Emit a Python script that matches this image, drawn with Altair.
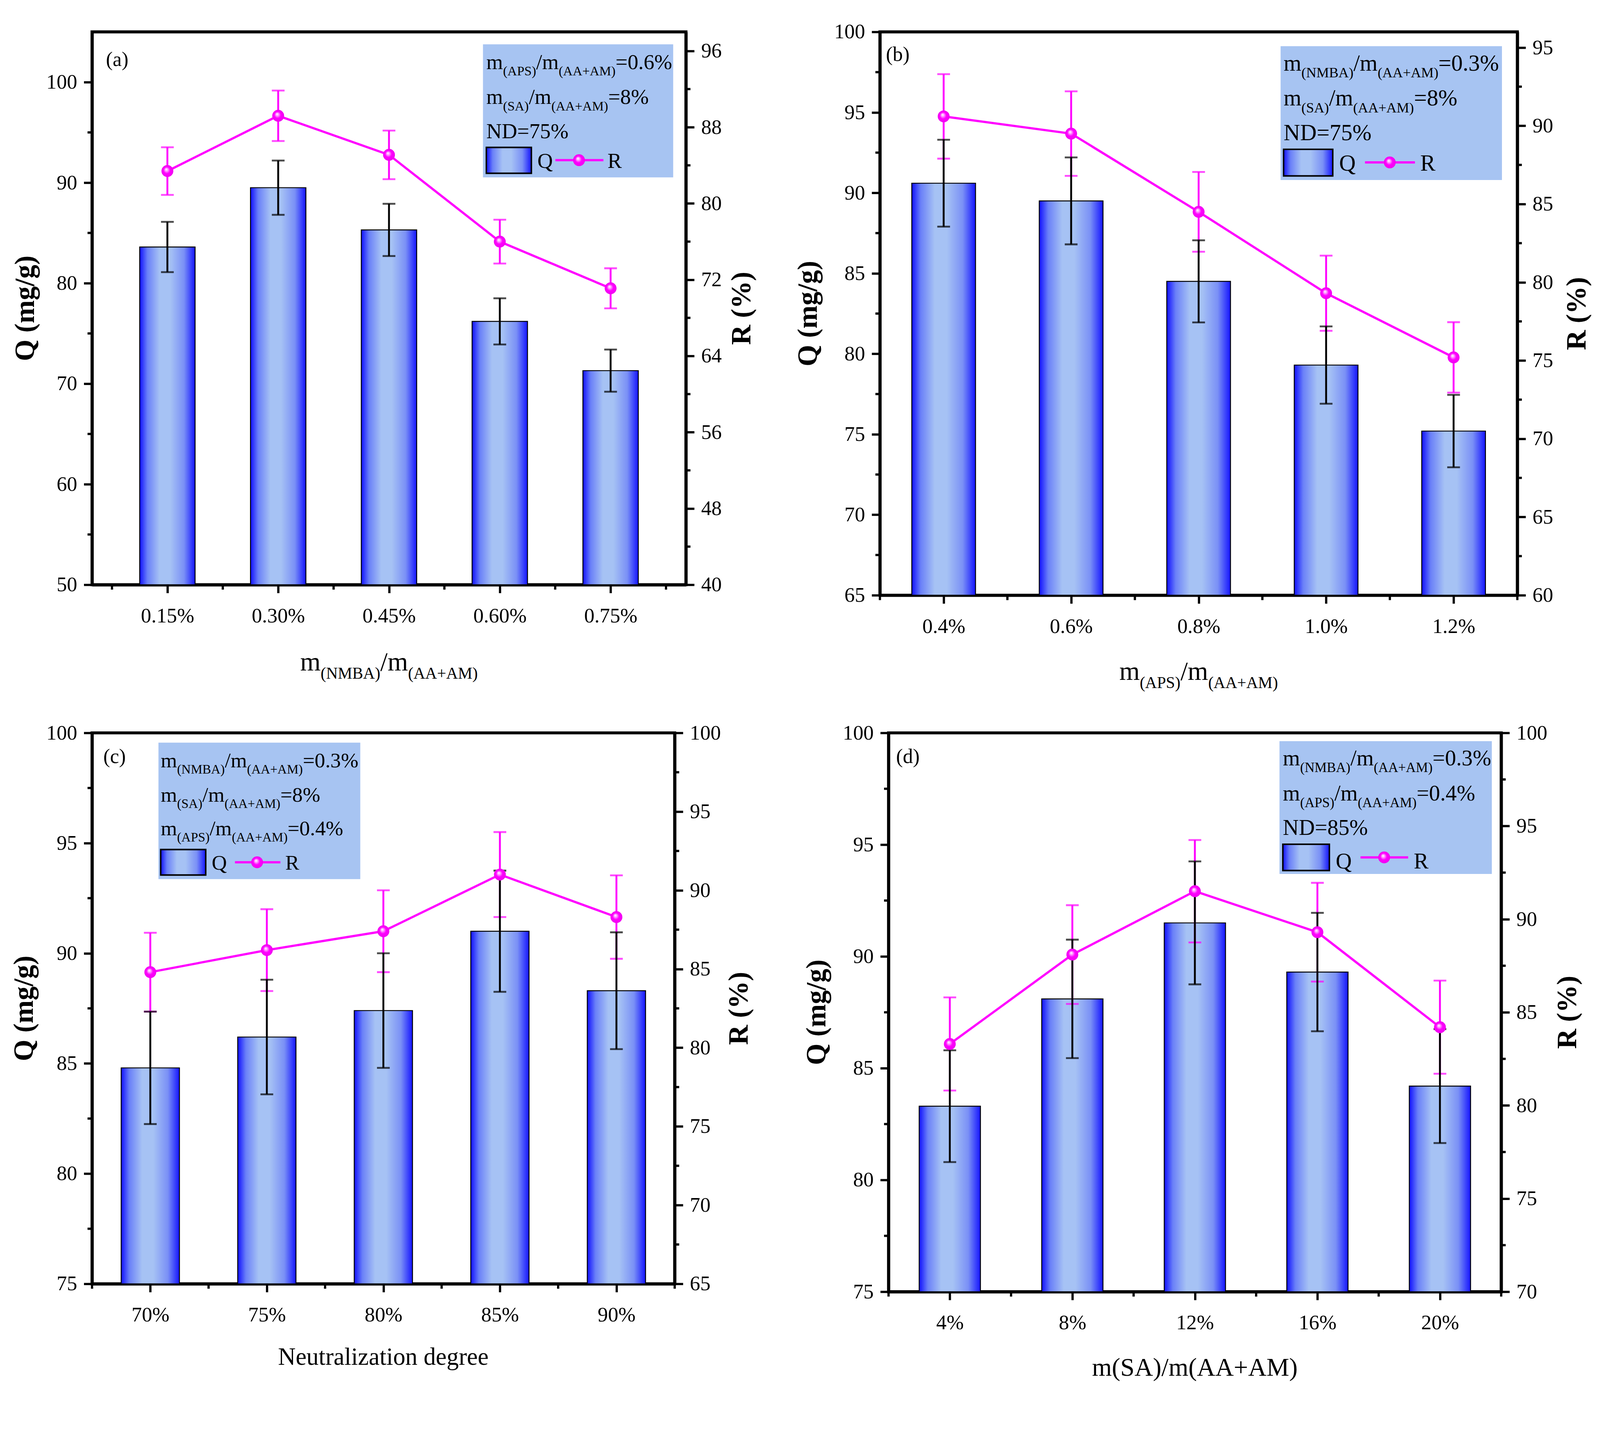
import json
import altair as alt
import pandas as pd

SERIF = "Liberation Serif, Times New Roman, serif"
MAGENTA = "#ff00ff"
BOX_BLUE = "#a7c4f2"

# ---------------- values ----------------
idx = [1, 2, 3, 4, 5]

a_labels = ["0.15%", "0.30%", "0.45%", "0.60%", "0.75%"]
a_q = [83.6, 89.5, 85.3, 76.2, 71.3]
a_q_err = [2.5, 2.7, 2.6, 2.3, 2.1]
a_r = [83.4, 89.2, 85.1, 76.0, 71.1]
a_r_err = [2.5, 2.65, 2.55, 2.3, 2.1]

b_labels = ["0.4%", "0.6%", "0.8%", "1.0%", "1.2%"]
b_q = [90.6, 89.5, 84.5, 79.3, 75.2]
b_q_err = [2.7, 2.7, 2.55, 2.4, 2.25]
b_r = [90.6, 89.5, 84.5, 79.3, 75.2]
b_r_err = [2.7, 2.7, 2.55, 2.4, 2.25]

c_labels = ["70%", "75%", "80%", "85%", "90%"]
c_q = [84.8, 86.2, 87.4, 91.0, 88.3]
c_q_err = [2.55, 2.6, 2.6, 2.75, 2.65]
c_r = [84.8, 86.2, 87.4, 91.0, 88.3]
c_r_err = [2.5, 2.6, 2.6, 2.7, 2.65]

d_labels = ["4%", "8%", "12%", "16%", "20%"]
d_q = [83.3, 88.1, 91.5, 89.3, 84.2]
d_q_err = [2.5, 2.65, 2.75, 2.65, 2.55]
d_r = [83.3, 88.1, 91.5, 89.3, 84.2]
d_r_err = [2.5, 2.65, 2.75, 2.65, 2.5]

# axis ticks
x_minor = [0.5, 1.5, 2.5, 3.5, 4.5, 5.5]
a_q_ticks = [50, 60, 70, 80, 90, 100]
a_q_minor = [55, 65, 75, 85, 95]
a_r_ticks = [40, 48, 56, 64, 72, 80, 88, 96]
a_r_minor = [44, 52, 60, 68, 76, 84, 92]
b_q_ticks = [65, 70, 75, 80, 85, 90, 95, 100]
b_q_minor = [67.5, 72.5, 77.5, 82.5, 87.5, 92.5, 97.5]
b_r_ticks = [60, 65, 70, 75, 80, 85, 90, 95]
b_r_minor = [62.5, 67.5, 72.5, 77.5, 82.5, 87.5, 92.5]
c_q_ticks = [75, 80, 85, 90, 95, 100]
c_q_minor = [77.5, 82.5, 87.5, 92.5, 97.5]
c_r_ticks = [65, 70, 75, 80, 85, 90, 95, 100]
c_r_minor = [67.5, 72.5, 77.5, 82.5, 87.5, 92.5, 97.5]
d_q_ticks = [75, 80, 85, 90, 95, 100]
d_q_minor = [77.5, 82.5, 87.5, 92.5, 97.5]
d_r_ticks = [70, 75, 80, 85, 90, 95, 100]
d_r_minor = [72.5, 77.5, 82.5, 87.5, 92.5, 97.5]

# annotation text ("_" marks a subscript piece)
a_notes = [["m", "_(APS)", "/m", "_(AA+AM)", "=0.6%"],
           ["m", "_(SA)", "/m", "_(AA+AM)", "=8%"],
           ["ND=75%"]]
b_notes = [["m", "_(NMBA)", "/m", "_(AA+AM)", "=0.3%"],
           ["m", "_(SA)", "/m", "_(AA+AM)", "=8%"],
           ["ND=75%"]]
c_notes = [["m", "_(NMBA)", "/m", "_(AA+AM)", "=0.3%"],
           ["m", "_(SA)", "/m", "_(AA+AM)", "=8%"],
           ["m", "_(APS)", "/m", "_(AA+AM)", "=0.4%"]]
d_notes = [["m", "_(NMBA)", "/m", "_(AA+AM)", "=0.3%"],
           ["m", "_(APS)", "/m", "_(AA+AM)", "=0.4%"],
           ["ND=85%"]]
a_xtitle = ["m", "_(NMBA)", "/m", "_(AA+AM)"]
b_xtitle = ["m", "_(APS)", "/m", "_(AA+AM)"]
c_xtitle = ["Neutralization degree"]
d_xtitle = ["m(SA)/m(AA+AM)"]

# ---------------- styles / layout ----------------
BAR_GRAD = alt.LinearGradient(
    gradient="linear", x1=0, x2=1, y1=0, y2=0,
    stops=[alt.GradientStop(color="#1010ff", offset=0),
           alt.GradientStop(color="#6a80f8", offset=0.14),
           alt.GradientStop(color="#a6c2f4", offset=0.36),
           alt.GradientStop(color="#a6c2f4", offset=0.55),
           alt.GradientStop(color="#7a90f6", offset=0.8),
           alt.GradientStop(color="#1414ff", offset=1)])
DOT_GRAD = alt.RadialGradient(
    gradient="radial", x1=0.4, y1=0.35, r1=0, x2=0.5, y2=0.5, r2=0.5,
    stops=[alt.GradientStop(color="#ffffff", offset=0),
           alt.GradientStop(color="#ffa8ff", offset=0.22),
           alt.GradientStop(color=MAGENTA, offset=0.55),
           alt.GradientStop(color="#f000f0", offset=1)])

TIMES_W = {" ": 250, "(": 333, ")": 333, "/": 278, "+": 564, "=": 564, ".": 250,
           "%": 833, "m": 778, "A": 722, "B": 667, "D": 722, "M": 889, "N": 722,
           "P": 556, "S": 556, "a": 444, "d": 500, "e": 444, "g": 500, "i": 278,
           "l": 278, "n": 500, "o": 500, "r": 333, "t": 278, "u": 500, "z": 444}
SUB = 0.62


def text_width(s, size):
    return sum(TIMES_W.get(ch, 500) for ch in s) * size / 1000.0


def rich_rows(parts, x0, base, size):
    rows, x = [], x0
    for p in parts:
        sub = p.startswith("_")
        t = p[1:] if sub else p
        s = size * SUB if sub else size
        rows.append({"x": x, "y": base + (0.3 * size if sub else 0), "size": s, "text": t})
        x += text_width(t, s)
    return rows


def rich_width(parts, size):
    return sum(text_width(p[1:], size * SUB) if p.startswith("_") else text_width(p, size)
               for p in parts)


LAY = {
    "a": dict(W=1583, H=1474, pad=(233, 72, 236, 306), box=(1042, 1549, 33, 388), fs=57,
              tx=1051, lines=(99, 192, 284), key=(1051, 1171, 308, 377), key_q=1187,
              key_base=363, key_line=(1235, 1363, 342), dot=1298, key_r=1374, tag=(37, 91),
              xt_base=229, xt_size=70, qt=-177, rt=150),
    "b": dict(W=1699, H=1502, pad=(273, 62, 208, 288), box=(1068, 1658, 38, 395), fs=61,
              tx=1076, lines=(103, 196, 289), key=(1076, 1207, 313, 384), key_q=1224,
              key_base=370, key_line=(1293, 1426, 348), dot=1359, key_r=1440, tag=(16, 77),
              xt_base=226, xt_size=70, qt=-190, rt=160),
    "c": dict(W=1553, H=1469, pad=(233, 71, 266, 280), box=(177, 715, 26, 390), fs=56,
              tx=183, lines=(92, 183, 273), key=(183, 303, 311, 379), key_q=319,
              key_base=365, key_line=(381, 502, 345), dot=440, key_r=515, tag=(30, 80),
              xt_base=216, xt_size=65, qt=-180, rt=172),
    "d": dict(W=1633, H=1490, pad=(296, 66, 251, 264), box=(1042, 1608, 22, 376), fs=59,
              tx=1051, lines=(87, 180, 272), key=(1051, 1175, 297, 367), key_q=1192,
              key_base=362, key_line=(1258, 1385, 332), dot=1321, key_r=1400, tag=(20, 80),
              xt_base=224, xt_size=68, qt=-190, rt=178),
}

one = pd.DataFrame({"k": [0]})
px = dict(scale=None, axis=None)


def panel(tag, labels, q, qe, r, re_, qdom, rdom, xdom, qt, qm, rt, rm, notes, xtitle):
    L = LAY[tag]
    W, H = L["W"], L["H"]
    pl, pt, pr, pb = L["pad"]
    df = pd.DataFrame({"i": idx, "Q": q, "Qe": qe, "R": r, "Re": re_})
    base = alt.Chart(df).transform_calculate(
        xl="datum.i - 0.25", xr="datum.i + 0.25",
        qlo="datum.Q - datum.Qe", qhi="datum.Q + datum.Qe",
        rlo="datum.R - datum.Re", rhi="datum.R + datum.Re")
    xs = alt.Scale(domain=xdom, nice=False, zero=False)
    qs = alt.Scale(domain=qdom, nice=False, zero=False)
    rs = alt.Scale(domain=rdom, nice=False, zero=False)
    xnone = alt.X("i:Q", scale=xs, axis=None)

    # invisible cell that fixes the panel's footprint in the grid
    bounds = alt.Chart(one).mark_rect(color="white", opacity=0).encode(
        x=alt.value(-pl), x2=alt.value(W + pr), y=alt.value(-pt), y2=alt.value(H + pb))

    bars = base.mark_bar(color=BAR_GRAD, stroke="black", strokeWidth=2.5).encode(
        x=alt.X("xl:Q", scale=xs, axis=alt.Axis(
            values=idx, labelExpr=json.dumps(labels) + "[datum.value - 1]", title=None,
            labelPadding=78, labelBaseline="alphabetic", labelFlush=False)),
        x2="xr:Q",
        y=alt.Y("Q:Q", scale=qs, axis=alt.Axis(
            orient="left", values=qt, format="d", title=None, labelPadding=18)),
        y2=alt.datum(qdom[0]))

    q_minor = alt.Chart(pd.DataFrame({"v": qm})).mark_rule(color="black", strokeWidth=6).encode(
        y=alt.Y("v:Q", scale=qs, axis=None), x=alt.value(-12), x2=alt.value(0))
    r_minor = alt.Chart(pd.DataFrame({"v": rm})).mark_rule(color="black", strokeWidth=6).encode(
        y=alt.Y("v:Q", scale=rs, axis=None), x=alt.value(W), x2=alt.value(W + 12))
    x_min = alt.Chart(pd.DataFrame({"v": x_minor})).mark_rule(color="black", strokeWidth=6).encode(
        x=alt.X("v:Q", scale=xs, axis=None), y=alt.value(H), y2=alt.value(H + 13))

    r_rule = base.mark_rule(color=MAGENTA, strokeWidth=5).encode(
        x=xnone, y=alt.Y("rlo:Q", scale=rs, axis=None), y2="rhi:Q")
    r_caps = base.transform_fold(["rlo", "rhi"], as_=["end", "v"]).mark_tick(
        color=MAGENTA, thickness=5, size=34, orient="horizontal").encode(
        x=xnone, y=alt.Y("v:Q", scale=rs, axis=None))
    q_rule = base.mark_rule(color="black", strokeWidth=5).encode(
        x=xnone, y=alt.Y("qlo:Q", scale=qs, axis=None), y2="qhi:Q")
    q_caps = base.transform_fold(["qlo", "qhi"], as_=["end", "v"]).mark_tick(
        color="black", thickness=5, size=34, orient="horizontal").encode(
        x=xnone, y=alt.Y("v:Q", scale=qs, axis=None))
    r_line = base.mark_line(color=MAGENTA, strokeWidth=6).encode(
        x=xnone, y=alt.Y("R:Q", scale=rs, axis=alt.Axis(
            orient="right", values=rt, format="d", title=None, labelPadding=18)))
    r_dots = base.mark_circle(color=DOT_GRAD, size=1000, opacity=1).encode(
        x=xnone, y=alt.Y("R:Q", scale=rs, axis=None))

    bx0, bx1, by0, by1 = L["box"]
    box = alt.Chart(one).mark_rect(color=BOX_BLUE).encode(
        x=alt.value(bx0), x2=alt.value(bx1), y=alt.value(by0), y2=alt.value(by1))
    kx0, kx1, ky0, ky1 = L["key"]
    key_bar = alt.Chart(one).mark_rect(color=BAR_GRAD, stroke="black", strokeWidth=4).encode(
        x=alt.value(kx0), x2=alt.value(kx1), y=alt.value(ky0), y2=alt.value(ky1))
    lx0, lx1, ly = L["key_line"]
    key_line = alt.Chart(one).mark_rule(color=MAGENTA, strokeWidth=6).encode(
        x=alt.value(lx0), x2=alt.value(lx1), y=alt.value(ly))
    key_dot = alt.Chart(one).mark_circle(color=DOT_GRAD, size=1000, opacity=1).encode(
        x=alt.value(L["dot"]), y=alt.value(ly))

    fs = L["fs"]
    rows = []
    for parts, bl in zip(notes, L["lines"]):
        rows += rich_rows(parts, L["tx"], bl, fs)
    rows.append({"x": L["key_q"], "y": L["key_base"], "size": fs, "text": "Q"})
    rows.append({"x": L["key_r"], "y": L["key_base"], "size": fs, "text": "R"})
    rows.append({"x": L["tag"][0], "y": L["tag"][1], "size": 54, "text": "(" + tag + ")"})
    xt = L["xt_size"]
    rows += rich_rows(xtitle, W / 2 - rich_width(xtitle, xt) / 2, H + L["xt_base"], xt)
    texts = alt.Chart(pd.DataFrame(rows)).mark_text(
        align="left", baseline="alphabetic", font=SERIF, color="black").encode(
        x=alt.X("x:Q", **px), y=alt.Y("y:Q", **px),
        size=alt.Size("size:Q", scale=None, legend=None), text="text:N")

    titles = alt.Chart(pd.DataFrame([
        {"x": L["qt"], "y": H / 2, "text": "Q (mg/g)"},
        {"x": W + L["rt"], "y": H / 2, "text": "R (%)"}])).mark_text(
        angle=270, align="center", baseline="middle", font=SERIF, fontWeight="bold",
        fontSize=74, color="black").encode(
        x=alt.X("x:Q", **px), y=alt.Y("y:Q", **px), text="text:N")

    return alt.layer(
        bounds, bars, q_minor, r_minor, x_min, r_rule, r_caps, q_rule, q_caps,
        r_line, r_dots, box, key_bar, key_line, key_dot, texts, titles
    ).resolve_scale(x="independent", y="independent").properties(width=W, height=H)


pa = panel("a", a_labels, a_q, a_q_err, a_r, a_r_err, [50, 105], [40, 98], [0.32, 5.68],
           a_q_ticks, a_q_minor, a_r_ticks, a_r_minor, a_notes, a_xtitle)
pb = panel("b", b_labels, b_q, b_q_err, b_r, b_r_err, [65, 100], [60, 96], [0.5, 5.5],
           b_q_ticks, b_q_minor, b_r_ticks, b_r_minor, b_notes, b_xtitle)
pc = panel("c", c_labels, c_q, c_q_err, c_r, c_r_err, [75, 100], [65, 100], [0.5, 5.5],
           c_q_ticks, c_q_minor, c_r_ticks, c_r_minor, c_notes, c_xtitle)
pd_ = panel("d", d_labels, d_q, d_q_err, d_r, d_r_err, [75, 100], [70, 100], [0.5, 5.5],
            d_q_ticks, d_q_minor, d_r_ticks, d_r_minor, d_notes, d_xtitle)

chart = alt.vconcat(
    alt.hconcat(pa, pb, spacing=0),
    alt.hconcat(pc, pd_, spacing=0),
    spacing=0,
).properties(
    padding={"left": 0, "top": -74, "right": 0, "bottom": 0}, background="white"
).configure_view(
    stroke="black", strokeWidth=8
).configure_axis(
    labelFont=SERIF, labelFontSize=55, labelColor="black",
    domainColor="black", domainWidth=8, tickColor="black", tickWidth=6,
    tickSize=22, grid=False, zindex=1
)

chart.save("out.html", embed_options={"renderer": "svg", "actions": False})
